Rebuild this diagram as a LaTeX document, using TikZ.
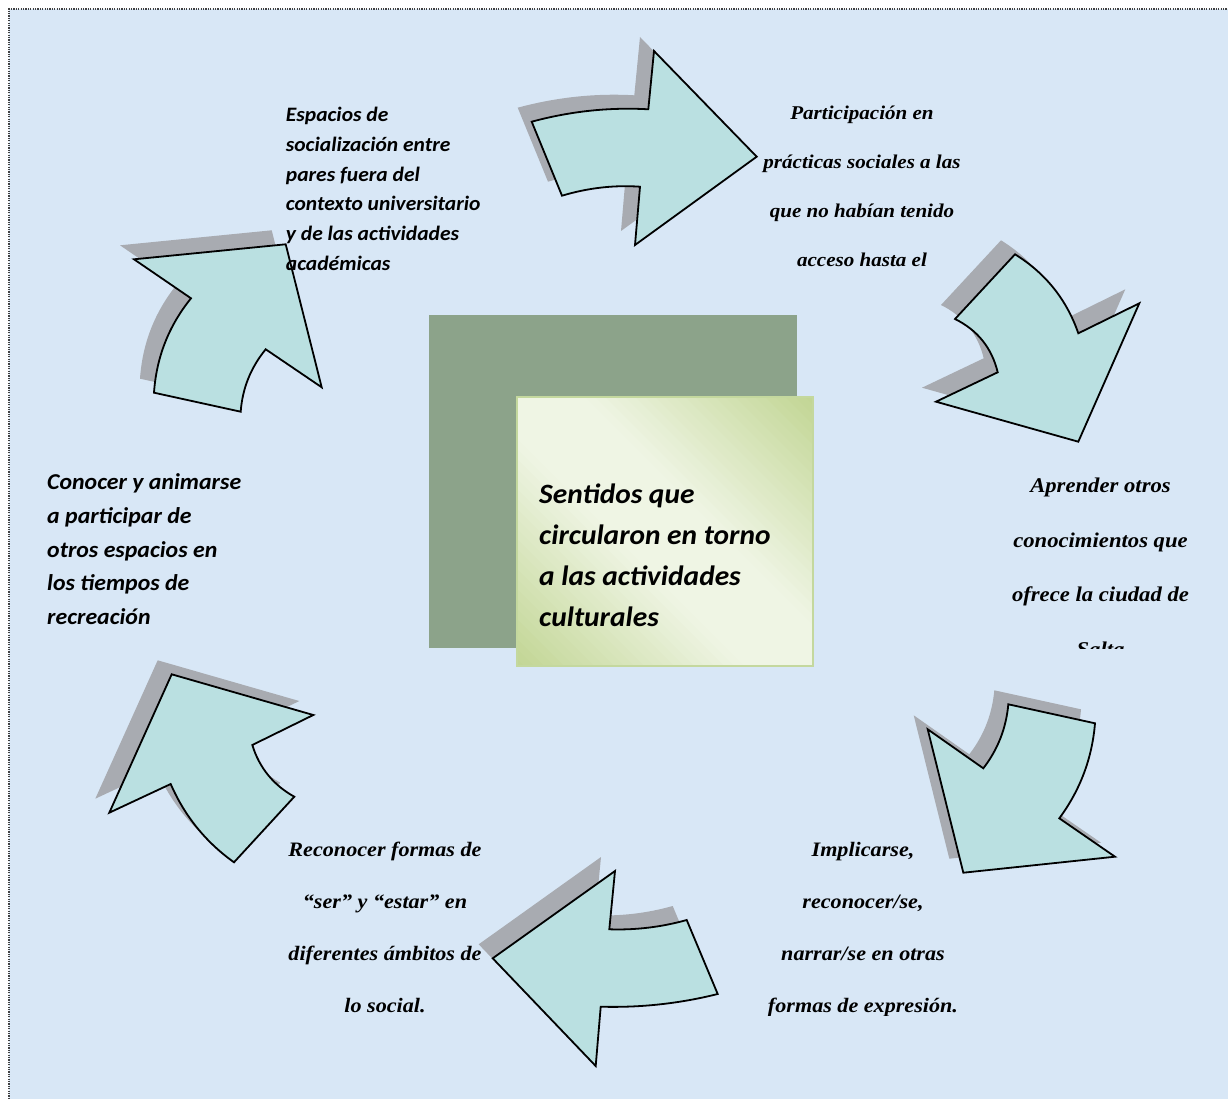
\documentclass[tikz,border=0pt]{standalone}
\usepackage{fontspec}
\setmainfont{Liberation Serif}[FakeStretch=1.08]
\newfontfamily\calfont{Carlito}[FakeStretch=1.05]
\definecolor{bgblue}{HTML}{D8E7F6}
\definecolor{arrowfill}{HTML}{BAE0E1}
\definecolor{shadowgray}{HTML}{A8ABB1}
\definecolor{darkbox}{HTML}{8CA38A}
\definecolor{boxgreen}{HTML}{C1D593}
\definecolor{boxlight}{HTML}{EFF5E4}
\definecolor{boxedge}{HTML}{C4D89E}
\def\arrA{(531.7,121.7) .. controls (570.6,111.2) and (609.4,107.1) .. (648.3,109.3) -- (654,51) -- (756.7,156.7) -- (635,245) -- (640,186.7) .. controls (614,184.9) and (588,187.9) .. (562,195.7) -- cycle}
\def\arrB{(955,319) -- (1015,254.3) .. controls (1045.5,273.2) and (1066.6,299.5) .. (1078.3,333.3) -- (1139.3,303.3) -- (1078.3,441.7) -- (936,401.7) -- (997.7,372.3) .. controls (991.8,347.9) and (977.5,330.1) .. (955,319) -- cycle}
\def\arrC{(1008.3,704.3) -- (1095,723.3) .. controls (1092.1,758.3) and (1080.2,790) .. (1059.3,818.3) -- (1115,856.7) -- (963.3,872.7) -- (927.7,729.3) -- (983.3,768.3) .. controls (997.9,749.4) and (1006.2,728) .. (1008.3,704.3) -- cycle}
\def\arrD{(615,871) -- (609.3,929.3) .. controls (635.6,930.2) and (661.4,927.1) .. (686.7,920) -- (717.7,994) .. controls (679.4,1003.6) and (640.4,1007.8) .. (600.7,1006.7) -- (595.7,1066) -- (492.7,958.3) -- cycle}
\def\arrE{(171.7,674.3) -- (313.3,715) -- (252.3,745) .. controls (259.4,767.9) and (273.4,785.1) .. (294.3,796.7) -- (234,862.3) .. controls (205.7,842.1) and (184.6,816) .. (170.7,784) -- (109.3,812.7) -- cycle}
\def\arrF{(134,259.3) -- (285.7,244.3) -- (321.7,387.3) -- (265.7,349.3) .. controls (250.8,367.5) and (242.4,388.3) .. (240.7,411.7) -- (154,392.7) .. controls (156.4,357.4) and (168.7,325.9) .. (191,298.3) -- cycle}
\begin{document}
\begin{tikzpicture}[x=1pt,y=-1pt,
  shadowst/.style={fill=shadowgray, draw=none, shift={(-14,-14)}},
  arrowst/.style={fill=arrowfill, draw=black, line width=1.8pt, line join=miter},
  calblk/.style={align=left, inner sep=0pt, anchor=base west},
  timesblk/.style={align=center, inner sep=0pt, anchor=base}]
\useasboundingbox (0,0) rectangle (1228,1099);
\fill[white] (0,0) rectangle (1228,1099);
\fill[bgblue] (9,9) rectangle (1228,1099);
\draw[black!75, line width=2.2pt, dash pattern=on 1.2pt off 1.2pt] (9,1099) -- (9,9) -- (1228,9);
% shadows
\fill[shadowst] \arrA;
\fill[shadowst] \arrB;
\fill[shadowst] \arrC;
\fill[shadowst] \arrD;
\fill[shadowst] \arrE;
\fill[shadowst] \arrF;
% arrows
\filldraw[arrowst] \arrA;
\filldraw[arrowst] \arrB;
\filldraw[arrowst] \arrC;
\filldraw[arrowst] \arrD;
\filldraw[arrowst] \arrE;
\filldraw[arrowst] \arrF;
% center boxes
\fill[darkbox] (429,315) rectangle (797,648);
\begin{scope}
\clip (517.3,396.7) rectangle (813.3,665.7);
\foreach \i in {0,...,56} {
  \pgfmathsetmacro\a{-152+\i*10}
  \pgfmathsetmacro\b{\a+11}
  \pgfmathsetmacro\t{(\a+5+152)/570}
  \pgfmathtruncatemacro\m{min(100,125*(1-abs(2*\t-1)))}
  \fill[boxlight!\m!boxgreen] (\a+300,300) -- (\a+700,700) -- (\b+700,700) -- (\b+300,300) -- cycle;
}
\end{scope}
\draw[boxedge, line width=2pt] (517.3,396.7) rectangle (813.3,665.7);
\node[calblk, font={\calfont\bfseries\itshape\fontsize{28}{41.2}\selectfont}] (center) at (539,626.9)
  {Sentidos que\\circularon en torno\\a las actividades\\culturales};
% texts
\node[calblk, font={\calfont\bfseries\itshape\fontsize{20.5}{29.7}\selectfont}] (espacios) at (285.7,270.2)
  {Espacios de\\socialización entre\\pares fuera del\\contexto universitario\\y de las actividades\\académicas};
\node[calblk, font={\calfont\bfseries\itshape\fontsize{22.7}{33.75}\selectfont}] (conocer) at (47,624.5)
  {Conocer y animarse\\a participar de\\otros espacios en\\los tiempos de\\recreación};
\node[timesblk, font={\bfseries\itshape\fontsize{19.5}{49}\selectfont}] (particip) at (862,267)
  {Participación en\\prácticas sociales a las\\que no habían tenido\\acceso hasta el};
\begin{scope}
\clip (950,440) rectangle (1228,648);
\node[timesblk, font={\bfseries\itshape\fontsize{21}{54.7}\selectfont}] (aprender) at (1100.5,656.4)
  {Aprender otros\\conocimientos que\\ofrece la ciudad de\\Salta};
\end{scope}
\begin{scope}
\clip (730,820) rectangle (1000,1015);
\node[timesblk, font={\bfseries\itshape\fontsize{20.5}{52}\selectfont}] (implic) at (863,1012.7)
  {Implicarse,\\reconocer/se,\\narrar/se en otras\\formas de expresión.};
\end{scope}
\node[timesblk, font={\bfseries\itshape\fontsize{20.5}{52}\selectfont}] (reconocer) at (385,1012.7)
  {Reconocer formas de\\“ser” y “estar” en\\diferentes ámbitos de\\lo social.};
\end{tikzpicture}
\end{document}
